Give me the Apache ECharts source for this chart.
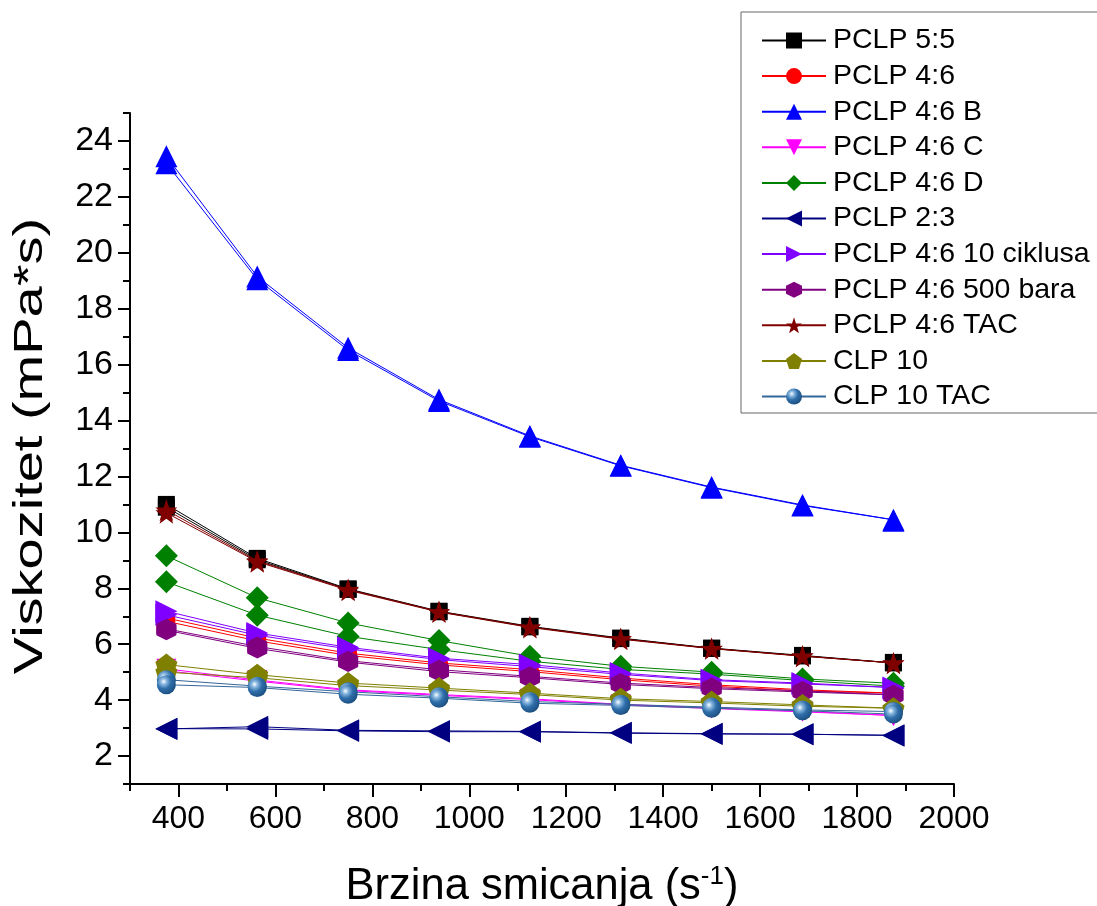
<!DOCTYPE html>
<html>
<head>
<meta charset="utf-8">
<script src="https://cdn.jsdelivr.net/npm/echarts@6/dist/echarts.min.js"></script>
<style>
html,body{margin:0;padding:0;background:#fff;}
#chart{width:1097px;height:906px;}
</style>
</head>
<body>
<div id="chart"></div>
<script>
// Shear rates (s^-1)
const shearRates = [375, 562.5, 750, 937.5, 1125, 1312.5, 1500, 1687.5, 1875];

// Viscosity (mPa*s): up-sweep and down-sweep for each sample
const pclp55Up   = [11.0, 9.07, 7.98, 7.18, 6.64, 6.22, 5.86, 5.60, 5.33];
const pclp55Down = [10.9, 9.02, 7.96, 7.16, 6.62, 6.20, 5.85, 5.58, 5.35];
const pclp46Up   = [6.94, 6.22, 5.68, 5.33, 5.09, 4.79, 4.55, 4.37, 4.25];
const pclp46Down = [6.82, 6.12, 5.60, 5.26, 5.02, 4.73, 4.50, 4.33, 4.20];
const pclp46BUp   = [23.45, 19.15, 16.60, 14.75, 13.45, 12.40, 11.62, 10.98, 10.45];
const pclp46BDown = [23.20, 19.05, 16.52, 14.70, 13.42, 12.38, 11.60, 10.96, 10.42];
const pclp46CUp   = [5.12, 4.72, 4.37, 4.20, 4.05, 3.85, 3.72, 3.60, 3.45];
const pclp46CDown = [5.05, 4.68, 4.34, 4.17, 4.02, 3.83, 3.70, 3.58, 3.42];
const pclp46DUp   = [9.16, 7.66, 6.76, 6.13, 5.57, 5.21, 5.00, 4.76, 4.60];
const pclp46DDown = [8.23, 7.04, 6.28, 5.81, 5.39, 5.10, 4.93, 4.70, 4.50];
const pclp23Up   = [2.98, 2.97, 2.90, 2.87, 2.87, 2.82, 2.79, 2.78, 2.74];
const pclp23Down = [2.97, 3.05, 2.92, 2.90, 2.88, 2.83, 2.80, 2.78, 2.73];
const pclp46CikUp   = [7.18, 6.40, 5.89, 5.50, 5.27, 4.97, 4.73, 4.61, 4.45];
const pclp46CikDown = [7.05, 6.32, 5.83, 5.45, 5.20, 4.92, 4.70, 4.58, 4.42];
const pclp46BarUp   = [6.55, 5.92, 5.41, 5.09, 4.85, 4.61, 4.45, 4.33, 4.19];
const pclp46BarDown = [6.50, 5.85, 5.36, 5.02, 4.80, 4.56, 4.41, 4.29, 4.16];
const pclp46TacUp   = [10.80, 8.98, 7.96, 7.17, 6.62, 6.20, 5.85, 5.58, 5.33];
const pclp46TacDown = [10.70, 8.95, 7.93, 7.15, 6.60, 6.18, 5.84, 5.57, 5.32];
const clp10Up   = [5.27, 4.91, 4.61, 4.43, 4.25, 4.05, 3.95, 3.83, 3.71];
const clp10Down = [5.00, 4.80, 4.52, 4.36, 4.20, 4.00, 3.90, 3.78, 3.68];
const clp10TacUp   = [4.73, 4.50, 4.30, 4.12, 3.95, 3.85, 3.75, 3.65, 3.59];
const clp10TacDown = [4.55, 4.45, 4.21, 4.07, 3.89, 3.81, 3.71, 3.62, 3.50];

const seriesNames = ['PCLP 5:5','PCLP 4:6','PCLP 4:6 B','PCLP 4:6 C','PCLP 4:6 D','PCLP 2:3',
  'PCLP 4:6 10 ciklusa','PCLP 4:6 500 bara','PCLP 4:6 TAC','CLP 10','CLP 10 TAC'];
const seriesUp = [pclp55Up, pclp46Up, pclp46BUp, pclp46CUp, pclp46DUp, pclp23Up,
  pclp46CikUp, pclp46BarUp, pclp46TacUp, clp10Up, clp10TacUp];
const seriesDown = [pclp55Down, pclp46Down, pclp46BDown, pclp46CDown, pclp46DDown, pclp23Down,
  pclp46CikDown, pclp46BarDown, pclp46TacDown, clp10Down, clp10TacDown];

const xLabelTicks = [400, 600, 800, 1000, 1200, 1400, 1600, 1800, 2000];
const xMinorTicks = [300, 500, 700, 900, 1100, 1300, 1500, 1700, 1900];
const yLabelTicks = [2, 4, 6, 8, 10, 12, 14, 16, 18, 20, 22, 24];
const yMinorTicks = [1, 3, 5, 7, 9, 11, 13, 15, 17, 19, 21, 23, 25];

const xTitle = 'Brzina smicanja (s{sup|-1})';
const yTitle = 'Viskozitet (mPa*s)';

const FONT = 'Liberation Sans, Arial, sans-serif';
const sphere = {
  type: 'radial', x: 0.36, y: 0.33, r: 0.7,
  colorStops: [{offset: 0, color: '#ffffff'}, {offset: 0.22, color: '#8ab8e0'}, {offset: 0.55, color: '#2f6eaa'}, {offset: 1, color: '#1c4f80'}]
};
const styles = [
  {color: '#000000', symbol: 'rect', size: 17},
  {color: '#ff0000', symbol: 'circle', size: 18},
  {color: '#0000ff', symbol: 'triangle', size: 22},
  {color: '#ff00ff', symbol: 'path://M0,0 L10,0 L5,9 Z', size: 20},
  {color: '#008000', symbol: 'diamond', size: 23},
  {color: '#000080', symbol: 'triangle', size: 22, rotate: 90},
  {color: '#8000ff', symbol: 'triangle', size: 22, rotate: -90},
  {color: '#800080', symbol: 'path://M5,0 L9.33,2.5 L9.33,7.5 L5,10 L0.67,7.5 L0.67,2.5 Z', size: 20},
  {color: '#800000', symbol: 'path://M50,0 L61.8,35.1 L97.6,34.5 L69,56.2 L79.4,90.5 L50,69.8 L20.6,90.5 L31,56.2 L2.4,34.5 L38.2,35.1 Z', size: 22},
  {color: '#808000', symbol: 'path://M50,0 L97.6,34.5 L79.4,90.5 L20.6,90.5 L2.4,34.5 Z', size: 22},
  {color: '#336699', symbol: 'circle', size: 19, fill: sphere}
];

function buildData(up, down) {
  const d = [];
  for (let i = 0; i < shearRates.length; i++) d.push([shearRates[i], up[i]]);
  for (let i = shearRates.length - 1; i >= 0; i--) d.push([shearRates[i], down[i]]);
  return d;
}

const series = seriesNames.map((name, i) => ({
  name: name,
  type: 'line',
  data: buildData(seriesUp[i], seriesDown[i]),
  symbol: styles[i].symbol,
  symbolSize: styles[i].size,
  symbolRotate: styles[i].rotate || 0,
  showAllSymbol: true,
  lineStyle: {color: styles[i].color, width: 1},
  itemStyle: {color: styles[i].fill || styles[i].color, borderWidth: 0},
  emphasis: {disabled: true},
  animation: false,
  z: 2 + i
}));

const chart = echarts.init(document.getElementById('chart'), null, {renderer: 'canvas'});
chart.setOption({
  backgroundColor: '#ffffff',
  animation: false,
  grid: {left: 130, top: 113, right: 143, bottom: 122, containLabel: false, outerBoundsMode: 'none'},
  legend: {
    orient: 'vertical',
    left: 741, top: 12,
    padding: [14, 10, 2, 20],
    itemWidth: 64, itemHeight: 20, itemGap: 6.6,
    borderColor: '#666', borderWidth: 1,
    backgroundColor: '#fff',
    textStyle: {fontSize: 28.5, lineHeight: 28, fontFamily: FONT, color: '#000', padding: [0,0,0,2]},
    data: seriesNames
  },
  graphic: [{
    type: 'text',
    x: 31, y: 446,
    rotation: Math.PI / 2,
    scaleX: 1.4,
    style: {text: yTitle, fontSize: 40, fontFamily: FONT, fill: '#000', align: 'center', verticalAlign: 'middle'}
  }],
  xAxis: [{
    type: 'value', min: 300, max: 2000,
    name: xTitle,
    nameLocation: 'middle', nameGap: 80,
    nameTextStyle: {fontSize: 43.5, fontFamily: FONT, color: '#000', rich: {sup: {fontSize: 26, verticalAlign: 'top', padding: [0,0,20,0], fontFamily: FONT, color: '#000'}}},
    axisLine: {show: true, lineStyle: {color: '#000', width: 2}},
    axisTick: {show: true, length: 13, inside: false, lineStyle: {color: '#000', width: 2}, customValues: xLabelTicks},
    axisLabel: {fontSize: 32, margin: 19, fontFamily: FONT, color: '#000', customValues: xLabelTicks, formatter: v => String(v)},
    splitLine: {show: false}
  }, {
    type: 'value', min: 300, max: 2000, position: 'bottom',
    axisLine: {show: false},
    axisTick: {show: true, length: 7, lineStyle: {color: '#000', width: 2}, customValues: xMinorTicks},
    axisLabel: {show: false},
    splitLine: {show: false}
  }],
  yAxis: [{
    type: 'value', min: 1, max: 25,
    axisLine: {show: true, lineStyle: {color: '#000', width: 2}},
    axisTick: {show: true, length: 12, lineStyle: {color: '#000', width: 2}, customValues: yLabelTicks},
    axisLabel: {fontSize: 34, margin: 17, fontFamily: FONT, color: '#000', customValues: yLabelTicks, formatter: v => String(v)},
    splitLine: {show: false}
  }, {
    type: 'value', min: 1, max: 25, position: 'left',
    axisLine: {show: false},
    axisTick: {show: true, length: 7, lineStyle: {color: '#000', width: 2}, customValues: yMinorTicks},
    axisLabel: {show: false},
    splitLine: {show: false}
  }],
  series: series
});
</script>
</body>
</html>
